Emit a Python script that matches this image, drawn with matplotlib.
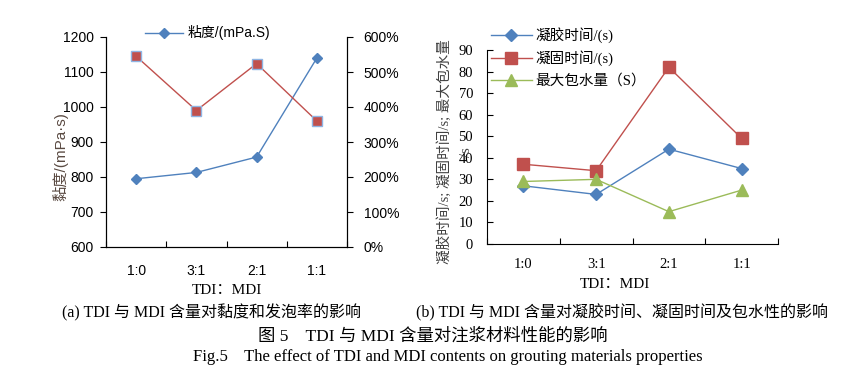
import matplotlib
matplotlib.use("Agg")
import matplotlib.pyplot as plt
from matplotlib.lines import Line2D

plt.rcParams['font.family'] = ['Liberation Sans', 'Noto Sans CJK SC']
SERIF = ['Liberation Serif', 'Noto Sans CJK SC']

# data
ratios = ["1:0", "3:1", "2:1", "1:1"]
viscosity = [795, 813, 857, 1140]          # mPa.s
foam_rate = [545, 390, 524, 360]           # %
gel_time = [27, 23, 44, 35]
cure_time = [37, 34, 82, 49]
water_hold = [29, 30, 15, 25]

BLUE = "#4F81BD"
RED = "#C0504D"
GREEN = "#9BBB59"

W, H = 843, 373
fig = plt.figure(figsize=(W / 100, H / 100), dpi=100)


def fx(px):
    return px / W


def fy(py):
    return 1 - py / H


xs = list(range(len(ratios)))

# ---------- (a) viscosity / foaming rate ----------
ax1 = fig.add_axes([fx(106), fy(247), fx(347 - 106), (247 - 37) / H])
ax1.plot(xs, viscosity, color=BLUE, lw=1, marker="D", markersize=5,
         markerfacecolor=BLUE, markeredgecolor=BLUE)
ax1.set_xlim(-0.5, 3.5)
ax1.set_ylim(600, 1200)
ax1.set_yticks(range(600, 1201, 100))
ax1.set_xticks(xs)
ax1.set_xticklabels(ratios)
ax1.set_xticks([-0.5, 0.5, 1.5, 2.5, 3.5], minor=True)
ax1.tick_params(axis="x", which="major", length=0, pad=12, labelsize=10)
ax1.tick_params(axis="x", which="minor", direction="in", length=4, width=0.8)
ax1.tick_params(axis="y", direction="out", length=4, width=0.8, pad=5, labelsize=10)
ax1.spines["top"].set_visible(False)

ax2 = ax1.twinx()
ax2.plot(xs, foam_rate, color=RED, lw=1, marker="s", markersize=7,
         markerfacecolor=RED, markeredgecolor="#8EB4E3", markeredgewidth=1)
ax2.set_ylim(0, 600)
ax2.set_yticks(range(0, 601, 100))
ax2.set_yticklabels([f"{v}%" for v in range(0, 601, 100)])
ax2.tick_params(axis="y", direction="out", length=4, width=0.8, pad=8, labelsize=10)
ax2.spines["top"].set_visible(False)
for sp in list(ax1.spines.values()) + list(ax2.spines.values()):
    sp.set_linewidth(0.8)

leg_a = [Line2D([0], [0], color=BLUE, lw=1, marker="D", markersize=5)]
fig.legend(leg_a, ["粘度/(mPa.S)"], loc="center left",
           bbox_to_anchor=(fx(145), fy(33)), frameon=False, borderpad=0,
           borderaxespad=0, handlelength=2.7, handletextpad=0.35, fontsize=10)

fig.text(fx(60), fy(157), "黏度/(mPa·s)", rotation=90, ha="center", va="center",
         fontsize=11, color="#5a4a42")
fig.text(fx(227), fy(290), "TDI：MDI", ha="center", va="center",
         fontsize=11, family=SERIF)

# ---------- (b) gel / cure time ----------
ax3 = fig.add_axes([fx(487), fy(244), fx(778 - 487), (244 - 50) / H])
ax3.plot(xs, gel_time, color=BLUE, lw=1, marker="D", markersize=6,
         markerfacecolor=BLUE, markeredgecolor=BLUE)
ax3.plot(xs, cure_time, color=RED, lw=1, marker="s", markersize=8,
         markerfacecolor=RED, markeredgecolor=RED)
ax3.plot(xs, water_hold, color=GREEN, lw=1, marker="^", markersize=8,
         markerfacecolor=GREEN, markeredgecolor=GREEN)
ax3.set_xlim(-0.5, 3.5)
ax3.set_ylim(0, 90)
ax3.set_yticks(range(0, 91, 10))
ax3.set_xticks(xs)
ax3.set_xticklabels(ratios)
ax3.set_xticks([-0.5, 0.5, 1.5, 2.5, 3.5], minor=True)
ax3.tick_params(axis="x", which="major", length=0, pad=10, labelsize=10.5)
ax3.tick_params(axis="x", which="minor", direction="in", length=4, width=0.8)
ax3.tick_params(axis="y", direction="in", length=4, width=0.8, pad=10, labelsize=10.5)
for t in ax3.get_xticklabels() + ax3.get_yticklabels():
    t.set_fontfamily(SERIF)
ax3.spines["top"].set_visible(False)
ax3.spines["right"].set_visible(False)
for sp in ax3.spines.values():
    sp.set_linewidth(0.8)

leg_b = [Line2D([0], [0], color=BLUE, lw=1, marker="D", markersize=6),
         Line2D([0], [0], color=RED, lw=1, marker="s", markersize=8),
         Line2D([0], [0], color=GREEN, lw=1, marker="^", markersize=8)]
fig.legend(leg_b, ["凝胶时间/(s)", "凝固时间/(s)", "最大包水量（S）"],
           loc="center left", bbox_to_anchor=(fx(491), fy(57.5)), frameon=False,
           borderpad=0, borderaxespad=0, handlelength=2.8, handletextpad=0.25,
           labelspacing=0.5, prop={"family": SERIF, "size": 10.5})

# y label wraps in the original: the trailing "/s" sits on a second line
fig.text(fx(445), fy(152), "凝胶时间/s; 凝固时间/s; 最大包水量", rotation=90,
         ha="center", va="center", fontsize=10.5, family=SERIF, color="#404040")
fig.text(fx(466), fy(152), "/s", rotation=90,
         ha="center", va="center", fontsize=10.5, family=SERIF, color="#404040")
fig.text(fx(615), fy(285), "TDI：MDI", ha="center", va="center",
         fontsize=11, family=SERIF)

# ---------- captions ----------
fig.text(fx(211), fy(313), "(a) TDI 与 MDI 含量对黏度和发泡率的影响", ha="center",
         va="center", fontsize=11.5, family=SERIF)
fig.text(fx(622), fy(313), "(b) TDI 与 MDI 含量对凝胶时间、凝固时间及包水性的影响",
         ha="center", va="center", fontsize=11.5, family=SERIF)
fig.text(fx(433), fy(336), "图 5    TDI 与 MDI 含量对注浆材料性能的影响", ha="center",
         va="center", fontsize=12.5, family=SERIF)
fig.text(fx(448), fy(357), "Fig.5    The effect of TDI and MDI contents on grouting materials properties",
         ha="center", va="center", fontsize=12, family=SERIF)

fig.savefig("out.png", dpi=100)
